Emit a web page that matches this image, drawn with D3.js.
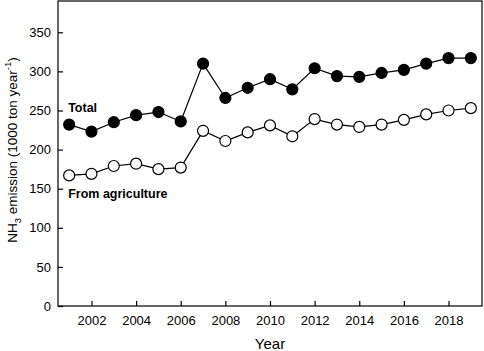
<!DOCTYPE html>
<html>
<head>
<meta charset="utf-8">
<script src="https://cdn.jsdelivr.net/npm/d3@7"></script>
<style>
    body { margin: 0; background: #fff; }
    svg { font-family: Arial, "Liberation Sans", sans-serif; }
    .axis path, .axis line { stroke: #000; stroke-width: 1.2; }
    .axis text { font-size: 13px; fill: #000; }
</style>
</head>
<body>
<div id="chart"></div>
<script>
var years = d3.range(2001, 2020);
var total = [232, 223, 235, 244, 248, 236, 310, 266, 279, 290, 277, 304, 294, 293, 298, 302, 310, 317, 317];
var agriculture = [167, 169, 179, 182, 175, 177, 224, 211, 222, 231, 217, 239, 232, 229, 232, 238, 245, 250, 253];
var xTicks = [2002, 2004, 2006, 2008, 2010, 2012, 2014, 2016, 2018];
var yTicks = [0, 50, 100, 150, 200, 250, 300, 350];

var margin = { top: 1, right: 2, bottom: 45, left: 58 };
var width = 484 - margin.left - margin.right;
var height = 351 - margin.top - margin.bottom;

var svg = d3.select("#chart").append("svg")
    .attr("width", 484)
    .attr("height", 351)
    .append("g")
    .attr("transform", "translate(" + margin.left + "," + margin.top + ")");

// scales and axes
var x = d3.scaleLinear()
    .domain([2000.5, 2019.5])
    .range([0, width]);
var y = d3.scaleLinear()
    .domain([0, 390])
    .range([height, 0]);

var xAxis = d3.axisBottom(x)
    .tickValues(xTicks)
    .tickFormat(d3.format("d"))
    .tickSizeInner(-5)
    .tickSizeOuter(0)
    .tickPadding(10);
var yAxis = d3.axisLeft(y)
    .tickValues(yTicks)
    .tickSizeInner(-5)
    .tickSizeOuter(0)
    .tickPadding(7);

// frame
svg.append("rect")
    .attr("width", width)
    .attr("height", height)
    .attr("fill", "none")
    .attr("stroke", "#000")
    .attr("stroke-width", 1.2);

svg.append("g")
    .attr("class", "x-axis axis")
    .attr("transform", "translate(0," + height + ")")
    .call(xAxis);
svg.append("g")
    .attr("class", "y-axis axis")
    .call(yAxis);
svg.selectAll(".axis .domain").remove();

// lines and markers
var line = d3.line()
    .x(function(d, i) { return x(years[i]); })
    .y(function(d) { return y(d); });

var series = [
    { values: total, fill: "#000" },
    { values: agriculture, fill: "#fff" }
];

series.forEach(function(s) {
    svg.append("path")
        .datum(s.values)
        .attr("fill", "none")
        .attr("stroke", "#000")
        .attr("stroke-width", 1.2)
        .attr("d", line);

    svg.selectAll(null)
        .data(s.values)
        .enter()
        .append("circle")
        .attr("cx", function(d, i) { return x(years[i]); })
        .attr("cy", function(d) { return y(d); })
        .attr("r", 5.5)
        .attr("fill", s.fill)
        .attr("stroke", "#000")
        .attr("stroke-width", 1.2);
});

// series labels
svg.append("text")
    .attr("x", x(2001) - 1)
    .attr("y", y(250) + 2)
    .style("font-size", "12.5px")
    .style("font-weight", "bold")
    .text("Total");
svg.append("text")
    .attr("x", x(2001) - 1)
    .attr("y", y(150) + 9)
    .style("font-size", "12.5px")
    .style("font-weight", "bold")
    .text("From agriculture");

// axis titles
svg.append("text")
    .attr("x", width / 2)
    .attr("y", height + 43)
    .attr("text-anchor", "middle")
    .style("font-size", "15px")
    .text("Year");

var yTitle = svg.append("text")
    .attr("transform", "translate(" + (-41) + "," + (150 - margin.top) + ") rotate(-90)")
    .attr("text-anchor", "middle")
    .style("font-size", "13.5px");
yTitle.append("tspan").text("NH");
yTitle.append("tspan").attr("dy", 4).style("font-size", "9.5px").text("3");
yTitle.append("tspan").attr("dy", -4).text(" emission (1000 ton year");
yTitle.append("tspan").attr("dy", -6).style("font-size", "9.5px").text("-1");
yTitle.append("tspan").attr("dy", 6).text(")");
</script>
</body>
</html>
